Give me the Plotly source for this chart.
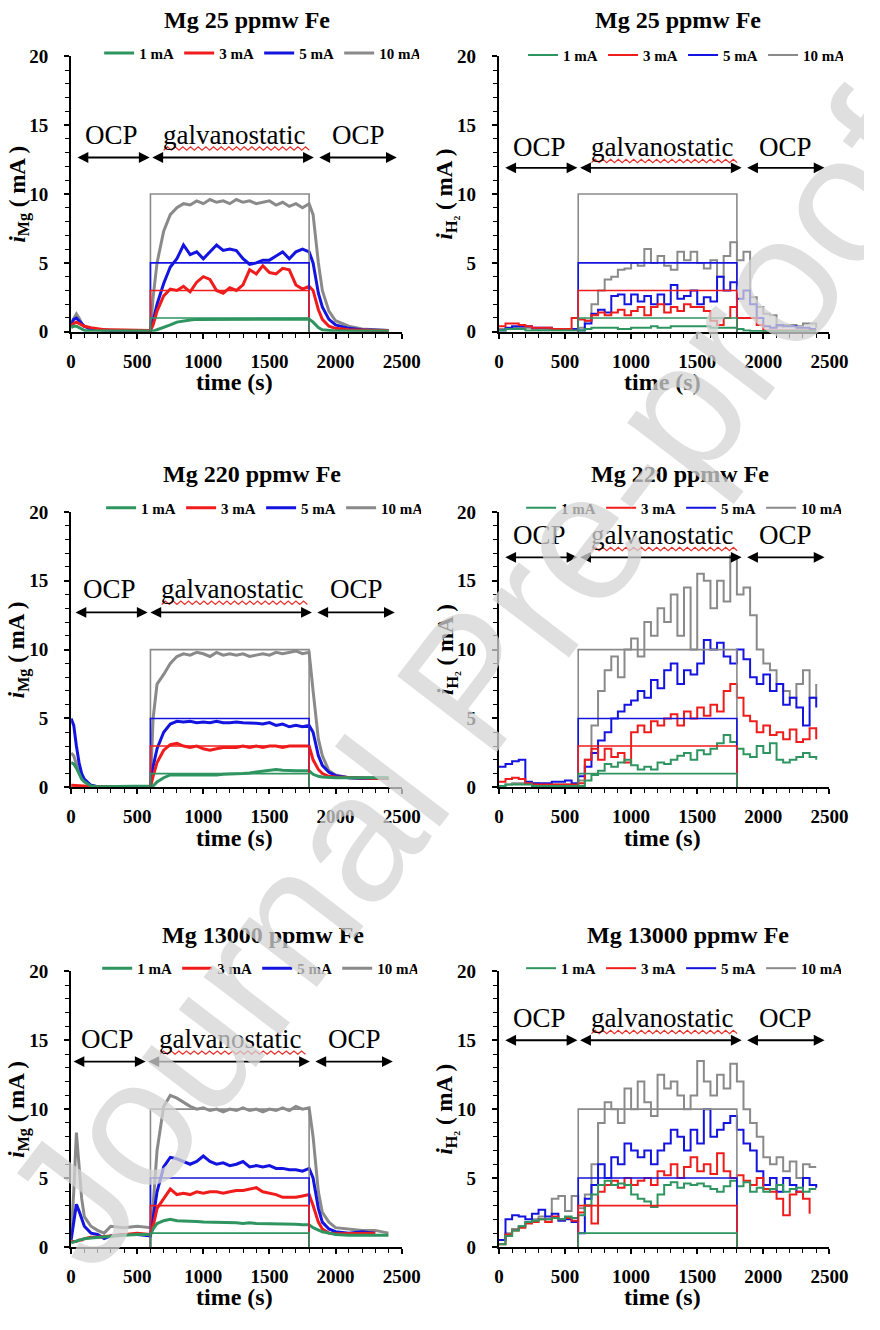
import plotly.graph_objects as go

# ---------------- data ----------------
T_MG = [0, 20, 40, 60, 80, 100, 150, 200, 250, 300,
        400, 500, 600, 620, 650, 700, 750, 800, 850, 900,
        950, 1000, 1050, 1100, 1150, 1200, 1250, 1300, 1350, 1400,
        1450, 1500, 1550, 1600, 1650, 1700, 1750, 1800, 1830, 1870,
        1900, 1950, 2000, 2100, 2200, 2300, 2400]
T_H2 = [0, 50, 100, 150, 200, 250, 300, 350, 400, 450,
        500, 550, 600, 650, 700, 750, 800, 850, 900, 950,
        1000, 1050, 1100, 1150, 1200, 1250, 1300, 1350, 1400, 1450,
        1500, 1550, 1600, 1650, 1700, 1750, 1800, 1850, 1900, 1950,
        2000, 2050, 2100, 2150, 2200, 2250, 2300, 2350, 2400]

APPLIED_T = [600, 600, 1800, 1800]
CURRENTS = [1, 3, 5, 10]
LABELS = ["1 mA", "3 mA", "5 mA", "10 mA"]
COLORS = {1: "#2e9560", 3: "#f01c1c", 5: "#1414e0", 10: "#8a8a8a"}

TITLES = ["Mg 25 ppmw Fe", "Mg 25 ppmw Fe", "Mg 220 ppmw Fe",
          "Mg 220 ppmw Fe", "Mg 13000 ppmw Fe", "Mg 13000 ppmw Fe"]
X_TICKS = [0, 500, 1000, 1500, 2000, 2500]
Y_TICKS = [0, 5, 10, 15, 20]

# Mg 25 ppmw Fe, i_Mg
MG25_MG_10 = [0.6, 1.0, 1.3, 1.0, 0.6, 0.4, 0.2, 0.15, 0.1, 0.1,
              0.1, 0.1, 0.1, 2.5, 5.0, 7.3, 8.5, 9.0, 9.3, 9.2,
              9.5, 9.3, 9.6, 9.4, 9.5, 9.3, 9.6, 9.4, 9.5, 9.3,
              9.4, 9.5, 9.2, 9.4, 9.1, 9.3, 9.0, 9.3, 8.5, 5.0,
              3.0, 1.5, 0.8, 0.4, 0.2, 0.15, 0.1]
MG25_MG_5 = [0.5, 0.9, 1.0, 0.8, 0.6, 0.4, 0.2, 0.15, 0.1, 0.1,
             0.1, 0.1, 0.1, 0.8, 2.0, 3.5, 4.7, 5.3, 6.3, 5.6,
             5.8, 5.3, 5.8, 6.3, 5.9, 6.0, 5.9, 5.3, 4.9, 5.0,
             5.2, 5.2, 5.5, 5.8, 5.3, 5.8, 6.0, 5.8, 5.0, 2.8,
             1.8, 0.9, 0.5, 0.25, 0.15, 0.1, 0.1]
MG25_MG_3 = [0.4, 0.6, 0.7, 0.6, 0.5, 0.4, 0.3, 0.2, 0.15, 0.15,
             0.15, 0.1, 0.1, 0.5, 1.5, 2.6, 3.1, 3.0, 3.3, 2.9,
             3.6, 4.0, 3.8, 3.0, 2.8, 3.2, 3.0, 3.4, 4.5, 4.2,
             4.8, 4.3, 4.2, 4.6, 4.5, 3.4, 3.1, 3.3, 3.0, 1.6,
             0.9, 0.4, 0.25, 0.15, 0.1, 0.1, 0.1]
MG25_MG_1 = [0.3, 0.4, 0.4, 0.3, 0.2, 0.1, 0.05, 0.05, 0.05, 0.05,
             0.05, 0.05, 0.05, 0.05, 0.15, 0.3, 0.5, 0.7, 0.8, 0.85,
             0.9, 0.9, 0.92, 0.9, 0.93, 0.9, 0.92, 0.9, 0.93, 0.91,
             0.92, 0.9, 0.93, 0.92, 0.95, 0.93, 0.92, 0.93, 0.7, 0.3,
             0.15, 0.08, 0.05, 0.05, 0.05, 0.05, 0.05]

# Mg 25 ppmw Fe, i_H2
MG25_H2_10 = [0.2, 0.2, 0.3, 0.3, 0.3, 0.2, 0.2, 0.2, 0.2, 0.2,
              0.2, 0.2, 0.3, 0.8, 2.0, 3.0, 3.8, 4.0, 4.5, 4.6,
              5.0, 4.8, 6.0, 5.0, 5.5, 4.8, 4.5, 5.8, 5.2, 5.8,
              5.0, 4.6, 5.2, 4.0, 5.5, 6.5, 5.2, 5.8, 2.5, 1.8,
              1.3, 1.2, 0.4, 0.5, 0.5, 0.4, 0.6, 0.6, 0.3]
MG25_H2_5 = [0.1, 0.3, 0.4, 0.4, 0.4, 0.3, 0.3, 0.3, 0.2, 0.2,
             0.2, 0.2, 0.1, 0.6, 1.3, 1.6, 1.4, 2.6, 2.7, 2.0,
             2.7, 2.2, 2.6, 2.0, 2.7, 2.0, 3.4, 2.4, 2.6, 3.0,
             2.0, 2.5, 2.2, 4.0, 3.0, 3.6, 2.4, 3.0, 2.0, 1.0,
             0.4, 0.3, 0.5, 0.4, 0.4, 0.3, 0.3, 0.2, 0.2]
MG25_H2_3 = [0.4, 0.6, 0.6, 0.5, 0.4, 0.3, 0.3, 0.3, 0.2, 0.2,
             0.2, 1.0, 0.9, 0.8, 1.2, 1.4, 1.2, 1.4, 1.6, 1.2,
             1.5, 1.8, 1.2, 1.8, 2.0, 1.4, 1.8, 1.5, 2.0, 1.8,
             1.8, 1.5, 0.8, 0.5, 1.0, 1.8, 1.0, 1.0, 1.0, 0.5,
             0.1, 0.1, 0.1, 0.1, 0.1, 0.1, 0.1, 0.1, 0.1]
MG25_H2_1 = [0.1, 0.2, 0.2, 0.2, 0.1, 0.1, 0.1, 0.1, 0.1, 0.1,
             0.1, 0.1, 0.1, 0.2, 0.3, 0.3, 0.3, 0.3, 0.2, 0.2,
             0.3, 0.3, 0.3, 0.4, 0.3, 0.3, 0.4, 0.4, 0.4, 0.4,
             0.4, 0.4, 0.3, 0.3, 0.3, 0.3, 0.2, 0.1, 0.05, 0.05,
             0.05, 0.05, 0.05, 0.05, 0.05, 0.05, 0.05, 0.05, 0.05]

# Mg 220 ppmw Fe, i_Mg
MG220_MG_10 = [2.5, 2.3, 1.7, 1.1, 0.7, 0.45, 0.15, 0.05, 0.05, 0.05,
               0.05, 0.05, 0.05, 5.0, 7.5, 8.2, 9.0, 9.5, 9.7, 9.6,
               9.8, 9.7, 9.5, 9.8, 9.6, 9.7, 9.6, 9.7, 9.5, 9.6,
               9.7, 9.6, 9.8, 9.7, 9.8, 9.9, 9.7, 9.8, 7.0, 3.5,
               2.3, 1.2, 0.9, 0.7, 0.7, 0.7, 0.7]
MG220_MG_5 = [5.0, 4.5, 3.0, 1.8, 1.0, 0.6, 0.15, 0.05, 0.05, 0.05,
              0.05, 0.05, 0.05, 1.5, 2.8, 4.0, 4.6, 4.8, 4.75, 4.8,
              4.7, 4.75, 4.7, 4.8, 4.7, 4.7, 4.75, 4.7, 4.7, 4.65,
              4.6, 4.7, 4.5, 4.6, 4.4, 4.5, 4.4, 4.5, 4.0, 2.3,
              1.6, 1.1, 0.85, 0.7, 0.65, 0.65, 0.65]
MG220_MG_3 = [0.15, 0.15, 0.1, 0.1, 0.1, 0.1, 0.05, 0.05, 0.05, 0.05,
              0.05, 0.05, 0.05, 0.8, 1.8, 2.7, 3.1, 3.2, 3.0, 2.9,
              3.0, 2.8, 2.7, 2.8, 2.9, 2.9, 2.9, 3.0, 2.9, 3.0,
              2.9, 3.0, 3.0, 2.9, 3.0, 3.0, 3.0, 3.0, 2.0, 1.3,
              1.0, 0.8, 0.75, 0.7, 0.65, 0.65, 0.65]
MG220_MG_1 = [1.8, 1.7, 1.4, 1.0, 0.6, 0.4, 0.1, 0.05, 0.05, 0.05,
              0.05, 0.05, 0.05, 0.1, 0.4, 0.7, 0.9, 0.9, 0.9, 0.9,
              0.9, 0.85, 0.9, 0.9, 0.95, 0.95, 1.0, 1.0, 1.05, 1.1,
              1.15, 1.2, 1.3, 1.25, 1.2, 1.2, 1.2, 1.2, 0.95, 0.8,
              0.75, 0.7, 0.7, 0.7, 0.7, 0.7, 0.7]

# Mg 220 ppmw Fe, i_H2
MG220_H2_10 = [0.1, 0.2, 0.3, 0.3, 0.3, 0.3, 0.2, 0.2, 0.2, 0.2,
               0.2, 0.2, 0.5, 2.0, 4.5, 7.0, 8.5, 9.5, 8.0, 10.0,
               10.8, 9.5, 12.0, 11.0, 13.0, 12.0, 14.0, 11.0, 14.5, 10.0,
               15.5, 15.0, 13.0, 15.0, 13.5, 16.8, 14.0, 14.5, 12.5, 10.0,
               9.0, 8.5, 7.5, 7.0, 6.5, 7.5, 8.5, 6.5, 7.5]
MG220_H2_5 = [1.5, 1.7, 1.9, 2.0, 0.4, 0.3, 0.3, 0.3, 0.4, 0.4,
              0.5, 0.3, 0.8, 1.5, 2.5, 3.4, 4.0, 5.0, 5.5, 6.0,
              6.3, 7.0, 6.5, 7.8, 7.2, 8.5, 9.0, 7.5, 8.5, 8.2,
              9.0, 10.7, 10.0, 10.5, 9.5, 9.0, 10.0, 9.3, 8.0, 7.5,
              8.2, 7.0, 7.5, 6.0, 6.5, 5.8, 4.5, 6.5, 5.8]
MG220_H2_3 = [0.4, 0.6, 0.7, 0.6, 0.3, 0.2, 0.2, 0.2, 0.2, 0.2,
              0.2, 0.2, 0.3, 2.0, 2.8, 2.0, 2.8, 2.2, 2.5, 1.8,
              4.0, 4.5, 4.0, 4.8, 4.5, 5.0, 5.3, 4.5, 5.5, 5.0,
              5.8, 5.2, 6.0, 5.5, 7.0, 7.5, 6.5, 5.2, 4.8, 4.0,
              4.5, 3.8, 4.0, 3.5, 4.2, 3.3, 3.5, 4.3, 3.5]
MG220_H2_1 = [0.1, 0.2, 0.2, 0.2, 0.2, 0.1, 0.1, 0.1, 0.1, 0.1,
              0.1, 0.1, 0.1, 0.5, 0.9, 1.2, 1.7, 1.5, 1.8, 2.0,
              1.6, 1.3, 1.5, 1.3, 1.8, 1.7, 2.0, 2.3, 2.5, 2.0,
              2.7, 2.4, 2.8, 3.2, 3.8, 3.3, 2.8, 2.4, 2.2, 3.0,
              2.5, 3.2, 2.0, 1.8, 2.0, 2.2, 2.5, 2.2, 2.0]

# Mg 13000 ppmw Fe, i_Mg
MG13K_MG_10 = [0.8, 4.0, 8.3, 6.0, 3.5, 2.2, 1.5, 1.2, 1.0, 1.5,
               1.4, 1.5, 1.4, 3.0, 7.0, 10.2, 11.0, 10.8, 10.5, 10.2,
               10.0, 10.1, 9.9, 10.0, 9.8, 10.0, 9.9, 10.1, 9.9, 10.0,
               9.8, 10.0, 9.9, 10.1, 9.9, 10.2, 10.0, 10.1, 8.0, 4.0,
               2.5, 1.8, 1.4, 1.3, 1.2, 1.2, 1.0]
MG13K_MG_5 = [0.5, 2.0, 3.1, 2.6, 2.0, 1.5, 1.0, 0.9, 0.6, 0.8,
              0.9, 0.9, 0.8, 2.0, 4.0, 5.8, 6.5, 6.4, 6.2, 6.0,
              6.2, 6.6, 6.2, 6.0, 6.1, 5.9, 6.0, 6.2, 5.8, 5.9,
              5.8, 5.9, 5.7, 5.7, 5.6, 5.6, 5.5, 5.7, 5.0, 2.8,
              1.8, 1.3, 1.1, 1.0, 1.1, 1.0, None]
MG13K_MG_3 = [0.4, 0.4, 0.4, 0.5, 0.5, 0.6, 0.7, 0.7, 0.75, 0.8,
              0.9, 1.0, 0.9, 1.5, 2.8, 3.5, 4.2, 3.8, 3.9, 3.8,
              4.0, 3.9, 4.0, 4.0, 3.9, 4.0, 4.1, 4.1, 4.2, 4.3,
              4.0, 3.9, 3.8, 3.6, 3.6, 3.6, 3.7, 3.8, 3.0, 1.8,
              1.3, 1.0, 0.95, 0.95, 0.95, 1.0, None]
MG13K_MG_1 = [0.3, 0.35, 0.4, 0.45, 0.5, 0.6, 0.65, 0.7, 0.75, 0.8,
              0.85, 0.9, 0.9, 1.3, 1.7, 1.9, 2.0, 1.9, 1.9, 1.9,
              1.85, 1.8, 1.8, 1.8, 1.8, 1.8, 1.75, 1.7, 1.75, 1.7,
              1.7, 1.7, 1.7, 1.7, 1.65, 1.65, 1.6, 1.6, 1.4, 1.2,
              1.1, 1.0, 0.9, 0.85, 0.85, 0.85, 0.85]

# Mg 13000 ppmw Fe, i_H2
MG13K_H2_10 = [0.5, 1.0, 1.3, 1.5, 1.8, 2.0, 2.2, 2.0, 3.5, 3.7,
               2.6, 3.7, 2.8, 3.8, 6.0, 9.0, 10.5, 10.0, 9.0, 11.5,
               10.0, 12.0, 10.5, 9.5, 12.5, 11.5, 12.0, 11.0, 10.0, 11.0,
               13.5, 12.0, 11.0, 12.5, 11.5, 13.3, 12.0, 10.0, 9.0, 8.0,
               6.5, 6.0, 6.5, 5.5, 6.2, 5.0, 6.0, 5.8, 5.8]
MG13K_H2_5 = [0.5, 2.0, 2.3, 2.2, 2.0, 2.4, 2.7, 2.2, 2.4, 1.9,
              2.0, 1.8, 1.0, 3.5, 4.5, 6.0, 5.0, 6.5, 6.0, 7.5,
              7.0, 6.5, 7.0, 6.0, 7.0, 7.5, 8.5, 8.0, 7.0, 8.5,
              7.5, 10.0, 8.0, 8.5, 9.0, 9.5, 8.5, 7.5, 7.0, 5.5,
              4.5, 5.0, 4.0, 5.0, 4.5, 4.0, 5.0, 4.5, 4.3]
MG13K_H2_3 = [0.2, 0.9, 1.2, 1.4, 1.7, 1.8, 2.0, 1.8, 2.2, 2.0,
              2.1, 1.9, 2.5, 3.0, 1.7, 4.0, 4.5, 4.8, 4.3, 5.0,
              4.5, 4.8, 5.0, 4.5, 5.5, 5.2, 6.0, 5.0, 5.8, 6.5,
              5.5, 6.0, 5.3, 6.8, 5.5, 5.0, 5.2, 4.8, 4.5, 5.0,
              4.2, 4.0, 3.5, 2.3, 3.8, 4.0, 3.5, 2.4, None]
MG13K_H2_1 = [0.2, 0.8, 1.2, 1.5, 1.8, 1.9, 2.0, 2.0, 2.1, 2.0,
              2.2, 2.1, 2.3, 3.0, 3.8, 4.5, 4.8, 4.5, 4.6, 4.5,
              3.8, 3.5, 3.3, 2.9, 3.8, 4.5, 4.7, 4.3, 4.6, 4.5,
              4.6, 4.4, 4.2, 4.0, 4.4, 4.8, 4.4, 4.7, 4.0, 4.3,
              4.0, 4.2, 4.5, 4.0, 4.2, 4.3, 4.0, 4.2, 4.2]

PANELS = [
    ("mg", {1: MG25_MG_1, 3: MG25_MG_3, 5: MG25_MG_5, 10: MG25_MG_10}),
    ("h2", {1: MG25_H2_1, 3: MG25_H2_3, 5: MG25_H2_5, 10: MG25_H2_10}),
    ("mg", {1: MG220_MG_1, 3: MG220_MG_3, 5: MG220_MG_5, 10: MG220_MG_10}),
    ("h2", {1: MG220_H2_1, 3: MG220_H2_3, 5: MG220_H2_5, 10: MG220_H2_10}),
    ("mg", {1: MG13K_MG_1, 3: MG13K_MG_3, 5: MG13K_MG_5, 10: MG13K_MG_10}),
    ("h2", {1: MG13K_H2_1, 3: MG13K_H2_3, 5: MG13K_H2_5, 10: MG13K_H2_10}),
]

# phase annotation placement (data units): text y, arrow y, x shift
PHASE_POS = [(14.3, 12.65, 0), (13.4, 11.9, 0), (14.4, 12.7, -15),
             (18.3, 16.7, 0), (15.1, 13.45, -30), (16.6, 15.0, 0)]

# ---------------- layout geometry ----------------
# The page body keeps the browser's default 8px margin, so the figure is
# 16px smaller than the window and all positions (measured on the window)
# are shifted by that margin.
PAGE_W, PAGE_H, PAGE_MARGIN = 880, 1330, 8
W, H = PAGE_W - 2 * PAGE_MARGIN, PAGE_H - 2 * PAGE_MARGIN
SERIF = "Liberation Serif, Times New Roman, serif"
COLS = [(76, 416), (516, 856)]
ROWS = [(55, 335), (518, 798), (985, 1265)]
LEGEND_RIGHT = [434, 870, 436, 868, 432, 868]
LEGEND_Y = [52, 54, 514, 514, 982, 982]
TITLE_POS = [(257, 18), (700, 18), (262, 480), (702, 480), (273, 948), (710, 948)]


def px_x(v):
    return (v - PAGE_MARGIN) / W


def px_y(v):
    return 1 - (v - PAGE_MARGIN) / H


fig = go.Figure()
layout = dict(
    width=W, height=H, margin=dict(l=0, r=0, t=0, b=0),
    paper_bgcolor="white", plot_bgcolor="white", showlegend=True,
    font=dict(family=SERIF, color="black"),
)
annotations = []
shapes = []

for k, (kind, series) in enumerate(PANELS):
    idx = k + 1
    r, c = divmod(k, 2)
    xs = "" if idx == 1 else str(idx)
    xname, yname = "x" + xs, "y" + xs
    legname = "legend" if idx == 1 else f"legend{idx}"
    x0, x1 = COLS[c]
    ytop, ybot = ROWS[r]

    layout["xaxis" + xs] = dict(
        domain=[px_x(x0), px_x(x1)], anchor=yname, range=[0, 2500],
        tickvals=X_TICKS, ticks="outside", ticklen=5, tickwidth=1.5, tickcolor="black",
        showline=True, linecolor="black", linewidth=2, showgrid=False, zeroline=False,
        tickfont=dict(family=SERIF, size=19, color="black", weight="bold"),
        minor=dict(dtick=100, ticks="outside", ticklen=4, tickwidth=1.2, tickcolor="black"),
        fixedrange=True, ticklabelstandoff=6,
    )
    layout["yaxis" + xs] = dict(
        domain=[px_y(ybot), px_y(ytop)], anchor=xname, range=[0, 20],
        tickvals=Y_TICKS, ticks="outside", ticklen=5, tickwidth=1.5, tickcolor="black",
        showline=True, linecolor="black", linewidth=2, showgrid=False, zeroline=False,
        tickfont=dict(family=SERIF, size=19, color="black", weight="bold"),
        minor=dict(dtick=1, ticks="outside", ticklen=4, tickwidth=1.2, tickcolor="black"),
        fixedrange=True, ticklabelstandoff=12,
    )
    layout[legname] = dict(
        orientation="h", x=px_x(LEGEND_RIGHT[k]), xanchor="right",
        y=px_y(LEGEND_Y[k]), yanchor="middle", bgcolor="rgba(0,0,0,0)",
        font=dict(family=SERIF, size=15, color="black", weight="bold"),
        entrywidth=35, itemwidth=30, traceorder="normal",
    )

    shape = "linear" if kind == "mg" else "hv"
    tvals = T_MG if kind == "mg" else T_H2
    width = 3.0 if kind == "mg" else 2.0
    # measured currents (gray drawn first, green last)
    for i_app in [10, 5, 3, 1]:
        rank = CURRENTS.index(i_app) + 1
        fig.add_trace(go.Scatter(
            x=tvals, y=series[i_app], mode="lines", name=LABELS[rank - 1],
            line=dict(color=COLORS[i_app], width=width, shape=shape),
            xaxis=xname, yaxis=yname, legend=legname, legendrank=rank,
            connectgaps=False,
        ))
    # applied galvanostatic steps
    for i_app in [10, 5, 3, 1]:
        fig.add_trace(go.Scatter(
            x=APPLIED_T, y=[0, i_app, i_app, 0], mode="lines",
            line=dict(color=COLORS[i_app], width=1.6),
            xaxis=xname, yaxis=yname, showlegend=False, hoverinfo="skip",
        ))

    # titles
    tx, ty = TITLE_POS[k]
    annotations.append(dict(
        text="<b>" + TITLES[k] + "</b>", x=px_x(tx), y=px_y(ty), xref="paper", yref="paper",
        showarrow=False, font=dict(family=SERIF, size=24, color="black"),
        xanchor="center", yanchor="middle"))
    # axis titles
    annotations.append(dict(
        text="<b>time (s)</b>", x=px_x((x0 + x1) / 2 - 2), y=px_y(ybot + 51),
        xref="paper", yref="paper", showarrow=False,
        font=dict(family=SERIF, size=24, color="black"), xanchor="center", yanchor="middle"))
    ylab = ("<b><i>i</i><sub>Mg</sub> ( mA )</b>" if kind == "mg"
            else "<b><i>i</i><sub>H₂</sub> ( mA )</b>")
    annotations.append(dict(
        text=ylab, x=px_x(x0 - 54), y=px_y((ytop + ybot) / 2), xref="paper", yref="paper",
        showarrow=False, textangle=-90, font=dict(family=SERIF, size=23, color="black"),
        xanchor="center", yanchor="middle"))

    # phase labels and arrows
    ty_, ay_, sh = PHASE_POS[k]
    for label, xc in [("OCP", 305), ("galvanostatic", 1232), ("OCP", 2170)]:
        annotations.append(dict(
            text=label, x=xc + sh, y=ty_, xref=xname, yref=yname, showarrow=False,
            font=dict(family=SERIF, size=27, color="black"),
            xanchor="center", yanchor="middle"))
    for a, b in [(37, 594), (603, 1836), (1866, 2463)]:
        annotations.append(dict(
            text="", x=b + sh, y=ay_, ax=a + sh, ay=ay_, xref=xname, yref=yname,
            axref=xname, ayref=yname, showarrow=True, arrowside="end+start",
            arrowhead=2, arrowsize=1.2, arrowwidth=1.8, arrowcolor="black",
            standoff=0, startstandoff=0))
    # red wavy spell-check underline below "galvanostatic"
    wy = ty_ - 1.0
    pts = []
    xw = 700 + sh
    j = 0
    while xw <= 1810 + sh:
        pts.append(f"{xw},{wy + (0.12 if j % 2 else -0.12)}")
        xw += 29
        j += 1
    shapes.append(dict(type="path", path="M " + " L ".join(pts), xref=xname, yref=yname,
                       line=dict(color="#e8302a", width=1.2)))

# watermark
annotations.append(dict(
    text="Journal Pre-proof", x=px_x(488), y=px_y(690), xref="paper", yref="paper",
    showarrow=False, textangle=-52.6,
    font=dict(family="Liberation Sans, Arial, sans-serif", size=182, color="rgba(212,212,212,0.75)"),
    xanchor="center", yanchor="middle"))

layout["annotations"] = annotations
layout["shapes"] = shapes
fig.update_layout(**layout)
fig.write_html("out.html")
